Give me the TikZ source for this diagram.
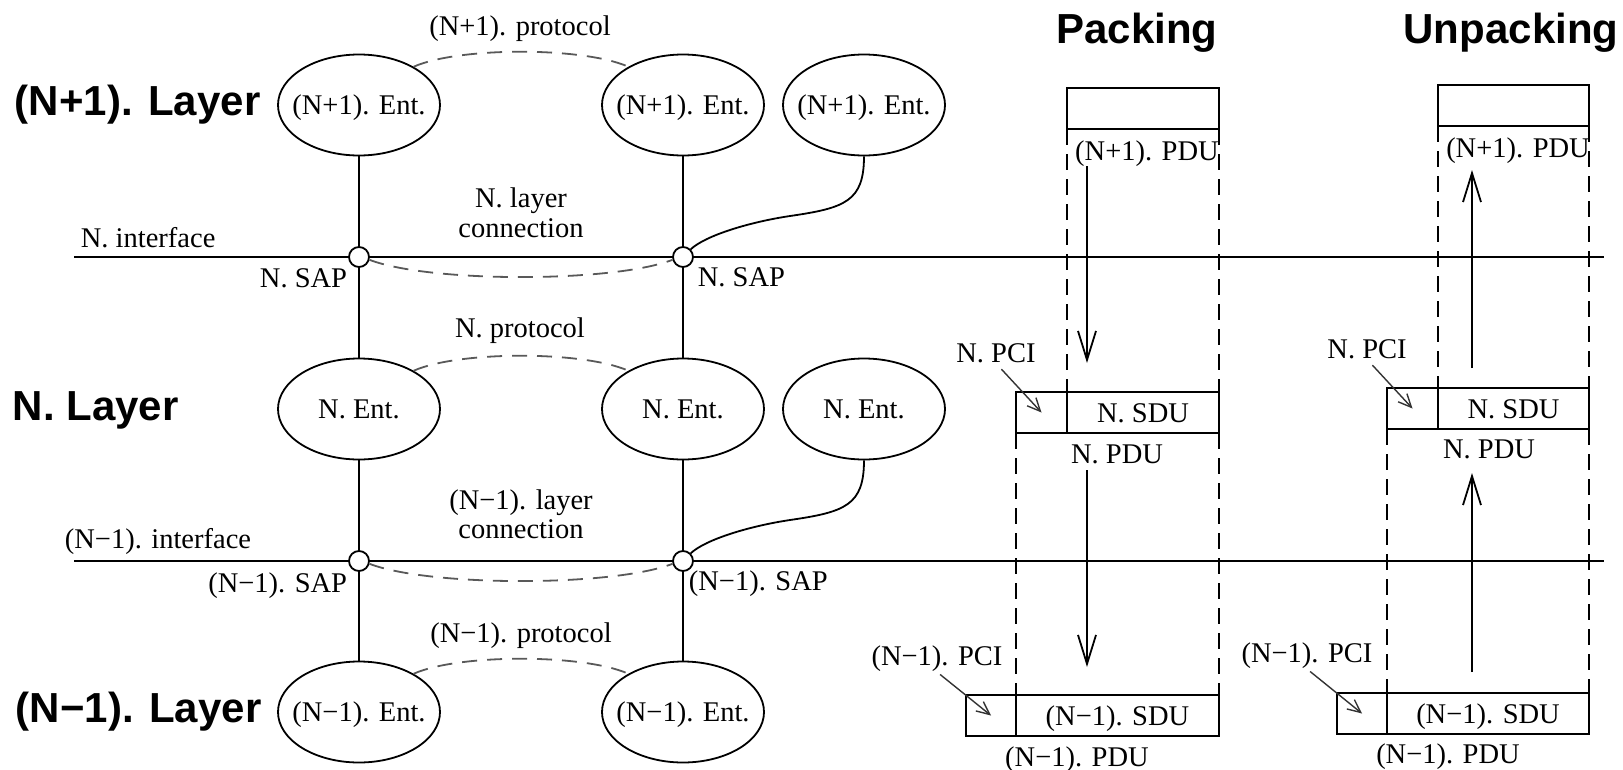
\documentclass[tikz,border=0pt]{standalone}
\usepackage{fontspec}
\setmainfont{Liberation Serif}
\setsansfont{Liberation Sans}
\usetikzlibrary{arrows.meta,positioning,shapes.geometric}

\begin{document}
\begin{tikzpicture}
  [
    x=1pt, y=-1pt,
    line width=1.8pt,
    every node/.style={font=\fontsize{28.5}{34}\selectfont},
    layer/.style={font=\sffamily\bfseries\fontsize{42}{50}\selectfont,anchor=base west,inner sep=0pt},
    txt/.style={anchor=base,inner sep=0pt},
    entity/.style={ellipse,draw,minimum width=162pt,minimum height=101pt,inner xsep=-12pt,inner ysep=0pt,text height=24pt,text depth=5pt},
    sap/.style={circle,draw,fill=white,minimum size=20pt,inner sep=0pt},
    cell/.style={rectangle,draw,minimum height=41pt,inner sep=0pt,outer sep=0pt,text height=24pt,text depth=5pt},
    proto/.style={draw=black!65,dash pattern=on 15pt off 10pt},
    guide/.style={dash pattern=on 16pt off 9pt},
    flow/.style={-{Straight Barb[length=29pt,width=18pt]}},
    pointer/.style={-{Straight Barb[length=13pt,width=12pt]},line width=1.4pt,draw=black!80}
  ]
  \useasboundingbox (0,0) rectangle (1623,769);

  % layer names
  \node[layer] (np1 layer) at (14,115) {(N+1). Layer};
  \node[layer] (n layer) at (12,420) {N. Layer};
  \node[layer] (nm1 layer) at (15,722) {(N−1). Layer};

  % entities
  \node[entity] (np1 ent a) at (359,105) {(N+1). Ent.};
  \node[entity] (np1 ent b) at (683,105) {(N+1). Ent.};
  \node[entity] (np1 ent c) at (864,105) {(N+1). Ent.};
  \node[entity] (n ent a) at (359,409) {N. Ent.};
  \node[entity] (n ent b) at (683,409) {N. Ent.};
  \node[entity] (n ent c) at (864,409) {N. Ent.};
  \node[entity] (nm1 ent a) at (359,712) {(N−1). Ent.};
  \node[entity] (nm1 ent b) at (683,712) {(N−1). Ent.};

  % service access points
  \node[sap] (n sap a) at (359,257) {};
  \node[sap] (n sap b) at (683,257) {};
  \node[sap] (nm1 sap a) at (359,561) {};
  \node[sap] (nm1 sap b) at (683,561) {};
  \coordinate (n if west) at (74,257);
  \coordinate (n if east) at (1604,257);
  \coordinate (nm1 if west) at (74,561);
  \coordinate (nm1 if east) at (1604,561);
  \coordinate (n bend) at (790,216);
  \coordinate (nm1 bend) at (790,520);

  \draw (n if west) -- (n sap a) -- (n sap b) -- (n if east);
  \draw (nm1 if west) -- (nm1 sap a) -- (nm1 sap b) -- (nm1 if east);
  \draw (np1 ent a) -- (n sap a) -- (n ent a) -- (nm1 sap a) -- (nm1 ent a);
  \draw (np1 ent b) -- (n sap b) -- (n ent b) -- (nm1 sap b) -- (nm1 ent b);
  \draw (np1 ent c.south) .. controls +(0,45) and +(55,-8) .. (n bend)
    .. controls +(-40,6) and +(15,-14) .. (n sap b.45);
  \draw (n ent c.south) .. controls +(0,45) and +(55,-8) .. (nm1 bend)
    .. controls +(-40,6) and +(15,-14) .. (nm1 sap b.45);

  \draw[proto] (np1 ent a.35) .. controls +(45,-20) and +(-45,-20) .. (np1 ent b.145);
  \draw[proto] (n ent a.35) .. controls +(45,-20) and +(-45,-20) .. (n ent b.145);
  \draw[proto] (nm1 ent a.35) .. controls +(45,-20) and +(-45,-20) .. (nm1 ent b.145);
  \draw[proto] (n sap a.-15) .. controls +(60,23) and +(-60,23) .. (n sap b.195);
  \draw[proto] (nm1 sap a.-15) .. controls +(60,23) and +(-60,23) .. (nm1 sap b.195);

  \node[txt] (np1 proto) at (520,35) {(N+1). protocol};
  \node[txt] (n proto) at (520,337) {N. protocol};
  \node[txt] (nm1 proto) at (521,642) {(N−1). protocol};
  \node[txt] (n conn a) at (521,207) {N. layer};
  \node[txt] (n conn b) at (521,237) {connection};
  \node[txt] (nm1 conn a) at (521,509) {(N−1). layer};
  \node[txt] (nm1 conn b) at (521,538) {connection};
  \node[txt,anchor=base west] (n if label) at (80,247) {N. interface};
  \node[txt,anchor=base west] (nm1 if label) at (64,548) {(N−1). interface};
  \node[txt,anchor=base east] (n sap a label) at (348,287) {N. SAP};
  \node[txt,anchor=base west] (n sap b label) at (697,286) {N. SAP};
  \node[txt,anchor=base east] (nm1 sap a label) at (348,592) {(N−1). SAP};
  \node[txt,anchor=base west] (nm1 sap b label) at (688,590) {(N−1). SAP};

  % packing
  \node[layer,anchor=base] (packing) at (1137,43) {Packing};
  \node[cell,minimum width=152pt] (pk np1 pdu) at (1143,108.5) {};
  \node[txt] (pk np1 label) at (1147,160) {(N+1). PDU};
  \node[cell,minimum width=51pt] (pk n pci) at (1041.5,412.5) {};
  \node[cell,minimum width=152pt] (pk n sdu) [right=0pt of pk n pci] {N. SDU};
  \node[txt] (pk n label) at (1117,463) {N. PDU};
  \node[cell,minimum width=50pt] (pk nm1 pci) at (991,715.5) {};
  \node[cell,minimum width=203pt] (pk nm1 sdu) [right=0pt of pk nm1 pci] {(N−1). SDU};
  \node[txt] (pk nm1 label) at (1077,766) {(N−1). PDU};
  \node[txt] (pk n pci label) at (996,362) {N. PCI};
  \node[txt] (pk nm1 pci label) at (937,665) {(N−1). PCI};

  \draw[guide] (pk np1 pdu.south west) -- (pk n sdu.north west);
  \draw[guide] (pk np1 pdu.south east) -- (pk n sdu.north east);
  \draw[guide] (pk n pci.south west) -- (pk nm1 pci.north east);
  \draw[guide] (pk n sdu.south east) -- (pk nm1 sdu.north east);
  \coordinate (pk a top) at (1087,166);
  \coordinate (pk a bot) at (1087,363);
  \coordinate (pk b top) at (1087,470);
  \coordinate (pk b bot) at (1087,667);
  \draw[flow] (pk a top) -- (pk a bot);
  \draw[flow] (pk b top) -- (pk b bot);
  \draw[pointer,shorten <=8pt] (pk n pci label.south) -- (pk n pci.center);
  \draw[pointer,shorten <=4pt] (pk nm1 pci label.south) -- (pk nm1 pci.center);

  % unpacking
  \node[layer,anchor=base] (unpacking) at (1511,43) {Unpacking};
  \node[cell,minimum width=151pt] (up np1 pdu) at (1513.5,105.5) {};
  \node[txt] (up np1 label) at (1518,157) {(N+1). PDU};
  \node[cell,minimum width=51pt] (up n pci) at (1412.5,408.5) {};
  \node[cell,minimum width=151pt] (up n sdu) [right=0pt of up n pci] {N. SDU};
  \node[txt] (up n label) at (1489,458) {N. PDU};
  \node[cell,minimum width=50pt] (up nm1 pci) at (1362,713.5) {};
  \node[cell,minimum width=202pt] (up nm1 sdu) [right=0pt of up nm1 pci] {(N−1). SDU};
  \node[txt] (up nm1 label) at (1448,763) {(N−1). PDU};
  \node[txt] (up n pci label) at (1367,358) {N. PCI};
  \node[txt] (up nm1 pci label) at (1307,662) {(N−1). PCI};

  \draw[guide] (up np1 pdu.south west) -- (up n sdu.north west);
  \draw[guide] (up np1 pdu.south east) -- (up n sdu.north east);
  \draw[guide] (up n pci.south west) -- (up nm1 pci.north east);
  \draw[guide] (up n sdu.south east) -- (up nm1 sdu.north east);
  \coordinate (up a bot) at (1472,368);
  \coordinate (up a top) at (1472,170);
  \coordinate (up b bot) at (1472,672);
  \coordinate (up b top) at (1472,473);
  \draw[flow] (up a bot) -- (up a top);
  \draw[flow] (up b bot) -- (up b top);
  \draw[pointer,shorten <=8pt] (up n pci label.south) -- (up n pci.center);
  \draw[pointer,shorten <=4pt] (up nm1 pci label.south) -- (up nm1 pci.center);
\end{tikzpicture}
\end{document}
